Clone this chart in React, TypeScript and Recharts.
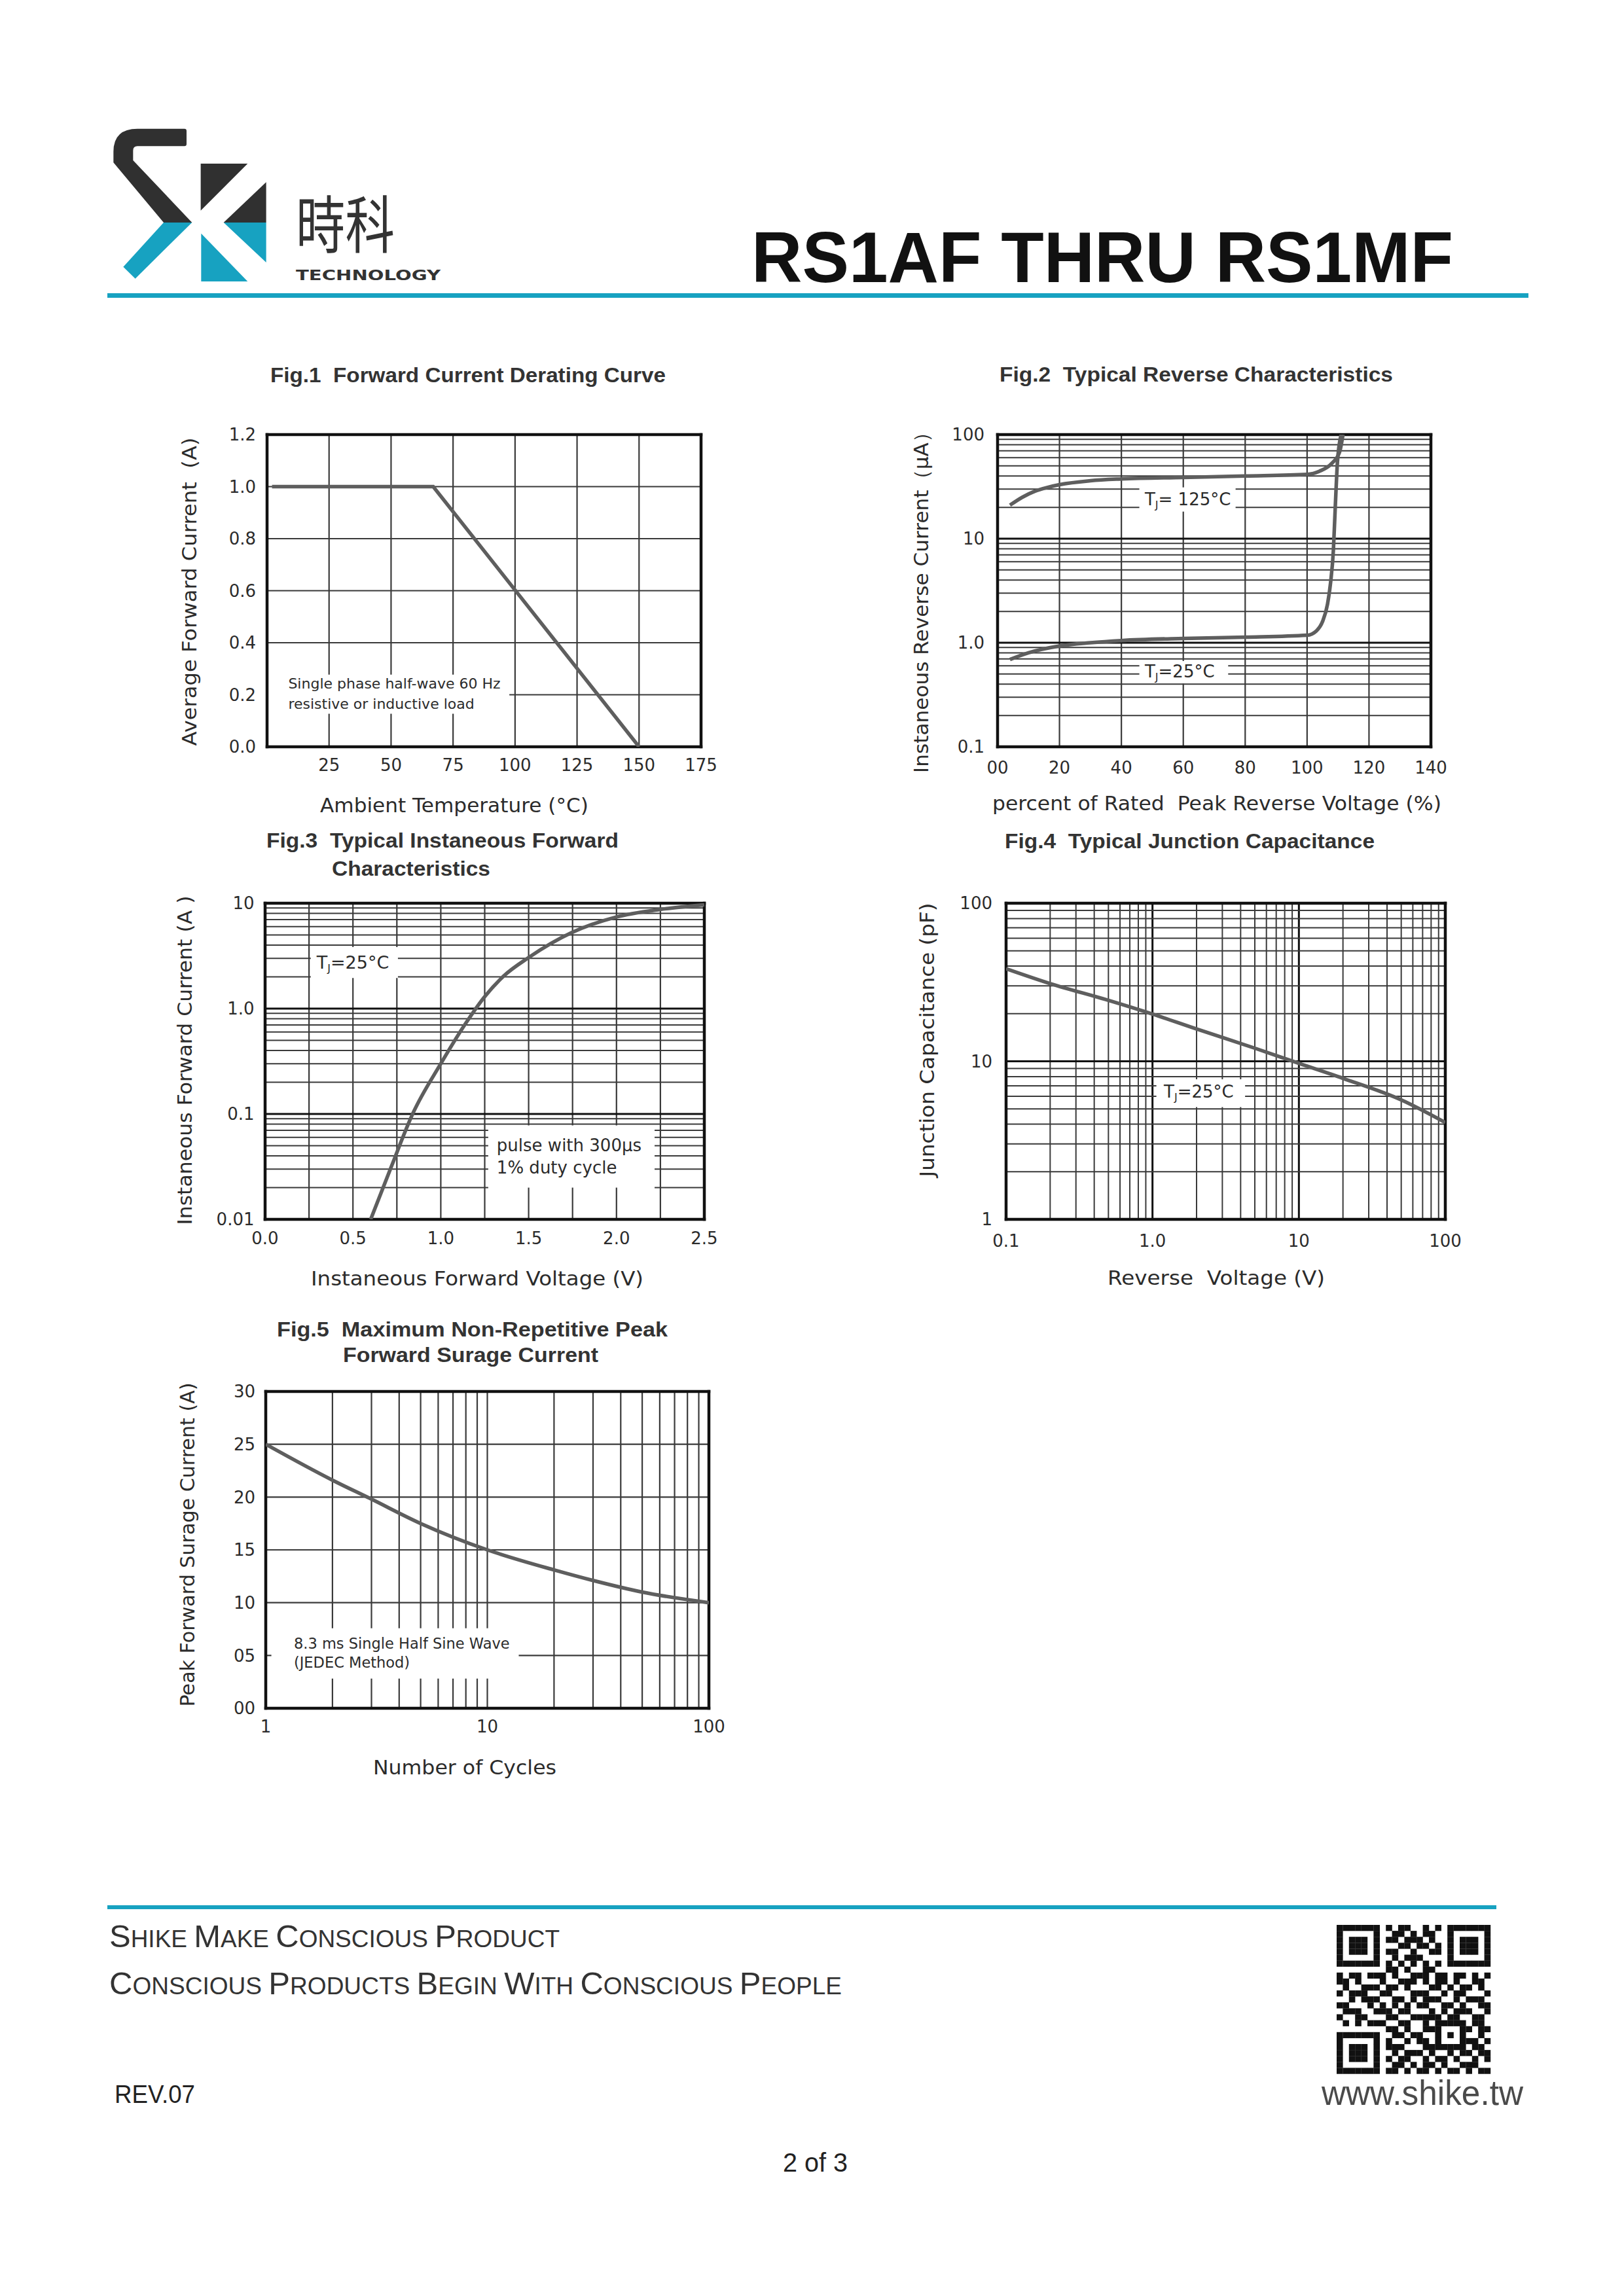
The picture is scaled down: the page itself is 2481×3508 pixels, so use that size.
import React from 'react';
import { LineChart, Line, XAxis, YAxis, ReferenceLine, ReferenceArea } from 'recharts';

const SANS = '"DejaVu Sans", "Liberation Sans", sans-serif';
const ARIAL = '"Liberation Sans", Arial, sans-serif';
const INK = '#2b2b2b';
const TEAL = '#17a2c1';
const CURVE = '#5e5e5e';

const decadeGrid = (exps: number[]) =>
  exps.flatMap((e) => [2, 3, 4, 5, 6, 7, 8, 9].map((m) => Number((m * Math.pow(10, e)).toPrecision(4))));

// ---------- Fig.1 ----------
const fig1XTicks = [25, 50, 75, 100, 125, 150, 175];
const fig1XLabels = ['25', '50', '75', '100', '125', '150', '175'];
const fig1YTicks = [0, 0.2, 0.4, 0.6, 0.8, 1.0, 1.2];
const fig1YLabels = ['0.0', '0.2', '0.4', '0.6', '0.8', '1.0', '1.2'];
const fig1Derating = [
  { x: 2, y: 1.0 },
  { x: 67, y: 1.0 },
  { x: 150, y: 0 },
];

// ---------- Fig.2 ----------
const fig2XTicks = [0, 20, 40, 60, 80, 100, 120, 140];
const fig2XLabels = ['00', '20', '40', '60', '80', '100', '120', '140'];
const fig2YTicks = [0.1, 1, 10, 100];
const fig2YLabels = ['0.1', '1.0', '10', '100'];
const fig2Tj125 = [
  { x: 4, y: 21 }, { x: 8, y: 25 }, { x: 12, y: 28.5 }, { x: 16, y: 31 }, { x: 20, y: 33 },
  { x: 30, y: 36 }, { x: 40, y: 37.5 }, { x: 60, y: 38.8 }, { x: 80, y: 40 }, { x: 100, y: 41.5 },
  { x: 104, y: 44.5 }, { x: 108, y: 53 }, { x: 110.5, y: 68 }, { x: 111.6, y: 100 },
];
const fig2Tj25 = [
  { x: 4, y: 0.69 }, { x: 10, y: 0.8 }, { x: 20, y: 0.93 }, { x: 30, y: 1.0 }, { x: 40, y: 1.05 },
  { x: 60, y: 1.1 }, { x: 80, y: 1.13 }, { x: 100, y: 1.18 }, { x: 103, y: 1.3 }, { x: 105, y: 1.6 },
  { x: 106.6, y: 2.35 }, { x: 107.6, y: 3.8 }, { x: 108.5, y: 7.8 }, { x: 109.1, y: 20 },
  { x: 109.8, y: 54 }, { x: 111, y: 100 },
];

// ---------- Fig.3 ----------
const fig3XTicks = [0, 0.5, 1.0, 1.5, 2.0, 2.5];
const fig3XLabels = ['0.0', '0.5', '1.0', '1.5', '2.0', '2.5'];
const fig3YTicks = [0.01, 0.1, 1, 10];
const fig3YLabels = ['0.01', '0.1', '1.0', '10'];
const fig3Forward = [
  { x: 0.601, y: 0.01 }, { x: 0.713, y: 0.03 }, { x: 0.842, y: 0.102 }, { x: 1.0, y: 0.3 },
  { x: 1.143, y: 0.73 }, { x: 1.25, y: 1.3 }, { x: 1.357, y: 2.03 }, { x: 1.5, y: 3.05 },
  { x: 1.744, y: 5.25 }, { x: 1.995, y: 7.36 }, { x: 2.249, y: 8.73 }, { x: 2.5, y: 9.66 },
];

// ---------- Fig.4 ----------
const fig4XTicks = [0.1, 1, 10, 100];
const fig4XLabels = ['0.1', '1.0', '10', '100'];
const fig4YTicks = [1, 10, 100];
const fig4YLabels = ['1', '10', '100'];
const fig4Cap = [
  { x: 0.1, y: 38.5 }, { x: 0.2, y: 31 }, { x: 0.5, y: 24.3 }, { x: 1, y: 19.9 }, { x: 2, y: 16.0 },
  { x: 5, y: 12.1 }, { x: 10, y: 9.7 }, { x: 20, y: 7.8 }, { x: 50, y: 5.7 }, { x: 100, y: 4.1 },
];

// ---------- Fig.5 ----------
const fig5XTicks = [1, 10, 100];
const fig5XLabels = ['1', '10', '100'];
const fig5YTicks = [0, 5, 10, 15, 20, 25, 30];
const fig5YLabels = ['00', '05', '10', '15', '20', '25', '30'];
const fig5Surge = [
  { x: 1, y: 25 }, { x: 2, y: 21.6 }, { x: 3, y: 19.8 }, { x: 5, y: 17.5 }, { x: 10, y: 15 },
  { x: 20, y: 13.1 }, { x: 30, y: 12.1 }, { x: 50, y: 11 }, { x: 100, y: 10 },
];

type Annot = {
  x1: number; x2: number; y1: number; y2: number;
  padX: number; baselines: number[]; fontSize: number; lines: React.ReactNode[];
};
type GridSet = { values: number[]; color: string; width: number };
type Spec = {
  plot: { l: number; t: number; r: number; b: number };
  xScale: 'linear' | 'log'; yScale: 'linear' | 'log';
  xDomain: [number, number]; yDomain: [number, number];
  xTicks: number[]; xLabels: string[]; yTicks: number[]; yLabels: string[];
  xGrid: GridSet[]; yGrid: GridSet[];
  xTickMargin: number; yTickMargin: number;
  series: { data: { x: number; y: number }[]; curve: 'linear' | 'monotone' }[];
  annots: Annot[];
};

const tj = (rest: string) => (
  <>
    T<tspan fontSize={16} dy={5}>J</tspan>
    <tspan dy={-5}>{rest}</tspan>
  </>
);

const GRID = '#3a3a3a';
const MAJOR = '#111';

const specs: Spec[] = [
  {
    plot: { l: 408, t: 664, r: 1071, b: 1141 },
    xScale: 'linear', yScale: 'linear', xDomain: [0, 175], yDomain: [0, 1.2],
    xTicks: fig1XTicks, xLabels: fig1XLabels, yTicks: fig1YTicks, yLabels: fig1YLabels,
    xGrid: [{ values: [25, 50, 75, 100, 125, 150], color: GRID, width: 2.2 }],
    yGrid: [{ values: [0.2, 0.4, 0.6, 0.8, 1.0], color: GRID, width: 2.2 }],
    xTickMargin: 19, yTickMargin: 17,
    series: [{ data: fig1Derating, curve: 'linear' }],
    annots: [
      {
        x1: 0, x2: 97.7, y1: 0.127, y2: 0.2775, padX: 32.4, baselines: [21, 52], fontSize: 22,
        lines: ['Single phase half-wave 60 Hz', 'resistive or inductive load'],
      },
    ],
  },
  {
    plot: { l: 1524, t: 664, r: 2186, b: 1141 },
    xScale: 'linear', yScale: 'log', xDomain: [0, 140], yDomain: [0.1, 100],
    xTicks: fig2XTicks, xLabels: fig2XLabels, yTicks: fig2YTicks, yLabels: fig2YLabels,
    xGrid: [{ values: [20, 40, 60, 80, 100, 120], color: GRID, width: 2.2 }],
    yGrid: [
      { values: decadeGrid([-1, 0, 1]), color: GRID, width: 2 },
      { values: [1, 10], color: MAJOR, width: 3 },
    ],
    xTickMargin: 23, yTickMargin: 20,
    series: [
      { data: fig2Tj125, curve: 'monotone' },
      { data: fig2Tj25, curve: 'monotone' },
    ],
    annots: [
      { x1: 45.8, x2: 76.9, y1: 18.2, y2: 31.1, padX: 8.4, baselines: [27.4], fontSize: 26, lines: [tj('= 125°C')] },
      { x1: 45.8, x2: 74.5, y1: 0.405, y2: 0.667, padX: 8.4, baselines: [25.3], fontSize: 26, lines: [tj('=25°C')] },
    ],
  },
  {
    plot: { l: 405, t: 1380, r: 1076, b: 1863 },
    xScale: 'linear', yScale: 'log', xDomain: [0, 2.5], yDomain: [0.01, 10],
    xTicks: fig3XTicks, xLabels: fig3XLabels, yTicks: fig3YTicks, yLabels: fig3YLabels,
    xGrid: [{ values: [0.25, 0.5, 0.75, 1.0, 1.25, 1.5, 1.75, 2.0, 2.25], color: GRID, width: 2.2 }],
    yGrid: [
      { values: decadeGrid([-2, -1, 0]), color: GRID, width: 2 },
      { values: [0.1, 1], color: MAJOR, width: 3 },
    ],
    xTickMargin: 20, yTickMargin: 16.5,
    series: [{ data: fig3Forward, curve: 'monotone' }],
    annots: [
      { x1: 0.26, x2: 0.756, y1: 1.95, y2: 3.84, padX: 9, baselines: [33], fontSize: 27, lines: [tj('=25°C')] },
      {
        x1: 1.27, x2: 2.217, y1: 0.02, y2: 0.0778, padX: 13, baselines: [39, 73.5], fontSize: 26,
        lines: ['pulse with 300μs', '1% duty cycle'],
      },
    ],
  },
  {
    plot: { l: 1537, t: 1380, r: 2208, b: 1863 },
    xScale: 'log', yScale: 'log', xDomain: [0.1, 100], yDomain: [1, 100],
    xTicks: fig4XTicks, xLabels: fig4XLabels, yTicks: fig4YTicks, yLabels: fig4YLabels,
    xGrid: [
      { values: decadeGrid([-1, 0, 1]), color: GRID, width: 2 },
      { values: [1, 10], color: MAJOR, width: 3 },
    ],
    yGrid: [
      { values: decadeGrid([0, 1]), color: GRID, width: 2 },
      { values: [10], color: MAJOR, width: 3 },
    ],
    xTickMargin: 24, yTickMargin: 21,
    series: [{ data: fig4Cap, curve: 'monotone' }],
    annots: [
      { x1: 1.063, x2: 4.29, y1: 5.13, y2: 7.7, padX: 11.5, baselines: [27.8], fontSize: 26, lines: [tj('=25°C')] },
    ],
  },
  {
    plot: { l: 406, t: 2126, r: 1083, b: 2610 },
    xScale: 'log', yScale: 'linear', xDomain: [1, 100], yDomain: [0, 30],
    xTicks: fig5XTicks, xLabels: fig5XLabels, yTicks: fig5YTicks, yLabels: fig5YLabels,
    xGrid: [{ values: [...decadeGrid([0, 1]), 10], color: GRID, width: 2.2 }],
    yGrid: [{ values: [5, 10, 15, 20, 25], color: GRID, width: 2.2 }],
    xTickMargin: 19, yTickMargin: 16,
    series: [{ data: fig5Surge, curve: 'monotone' }],
    annots: [
      {
        x1: 1.06, x2: 13.86, y1: 2.81, y2: 7.58, padX: 34.4, baselines: [31.2, 60], fontSize: 22.5,
        lines: ['8.3 ms Single Half Sine Wave', '(JEDEC Method)'],
      },
    ],
  },
];

// split a grid line's extent around the annotation boxes (gridlines stop at the label boxes)
const subtract = (lo: number, hi: number, cuts: [number, number][]) => {
  let segs: [number, number][] = [[lo, hi]];
  for (const [a, b] of cuts) {
    segs = segs.flatMap(([s, e]) => {
      if (b <= s || a >= e) return [[s, e] as [number, number]];
      const out: [number, number][] = [];
      if (a > s) out.push([s, a]);
      if (b < e) out.push([b, e]);
      return out;
    });
  }
  return segs;
};

const annotRenderer = (a: Annot) => (props: any) => {
  const vb = props && props.viewBox ? props.viewBox : { x: 0, y: 0, width: 0, height: 0 };
  return (
    <g>
      {a.lines.map((ln, i) => (
        <text key={i} x={vb.x + a.padX} y={vb.y + a.baselines[i]} fontSize={a.fontSize} fontFamily={SANS} fill={INK}>
          {ln}
        </text>
      ))}
    </g>
  );
};

const fmt = (ticks: number[], labels: string[]) => (v: number) => {
  const i = ticks.indexOf(v);
  return i >= 0 ? labels[i] : String(v);
};

function Chart({ s }: { s: Spec }) {
  const padL = 130, padT = 20, padR = 40, padB = 70;
  const w = s.plot.r - s.plot.l + padL + padR;
  const h = s.plot.b - s.plot.t + padT + padB;
  const tickStyle = { fill: INK, fontSize: 26, fontFamily: SANS };
  const border = { stroke: '#111', strokeWidth: 4.5, strokeLinecap: 'square' as const };
  const vLines: React.ReactNode[] = [];
  s.xGrid.forEach((g, gi) =>
    g.values.forEach((v) => {
      const cuts = s.annots.filter((a) => a.x1 <= v && v <= a.x2).map((a) => [a.y1, a.y2] as [number, number]);
      subtract(s.yDomain[0], s.yDomain[1], cuts).forEach(([y0, y1], k) =>
        vLines.push(
          <ReferenceLine key={`xg${gi}-${v}-${k}`} segment={[{ x: v, y: y0 }, { x: v, y: y1 }]} stroke={g.color} strokeWidth={g.width} />
        )
      );
    })
  );
  const hLines: React.ReactNode[] = [];
  s.yGrid.forEach((g, gi) =>
    g.values.forEach((v) => {
      const cuts = s.annots.filter((a) => a.y1 <= v && v <= a.y2).map((a) => [a.x1, a.x2] as [number, number]);
      subtract(s.xDomain[0], s.xDomain[1], cuts).forEach(([x0, x1], k) =>
        hLines.push(
          <ReferenceLine key={`yg${gi}-${v}-${k}`} segment={[{ x: x0, y: v }, { x: x1, y: v }]} stroke={g.color} strokeWidth={g.width} />
        )
      );
    })
  );
  return (
    <div style={{ position: 'absolute', left: s.plot.l - padL, top: s.plot.t - padT, width: w, height: h }}>
      <LineChart width={w} height={h} margin={{ top: padT, right: padR, bottom: 0, left: 0 }}>
        <XAxis
          type="number" dataKey="x" scale={s.xScale} domain={s.xDomain} ticks={s.xTicks}
          tickFormatter={fmt(s.xTicks, s.xLabels)} axisLine={false} tickLine={false} tickSize={0}
          tickMargin={s.xTickMargin} height={padB} tick={tickStyle} interval={0} allowDataOverflow
        />
        <YAxis
          type="number" dataKey="y" scale={s.yScale} domain={s.yDomain} ticks={s.yTicks}
          tickFormatter={fmt(s.yTicks, s.yLabels)} axisLine={false} tickLine={false} tickSize={0}
          tickMargin={s.yTickMargin} width={padL} tick={tickStyle} interval={0} allowDataOverflow
        />
        {vLines}
        {hLines}
        <ReferenceLine x={s.xDomain[0]} {...border} />
        <ReferenceLine x={s.xDomain[1]} {...border} />
        <ReferenceLine y={s.yDomain[0]} {...border} />
        <ReferenceLine y={s.yDomain[1]} {...border} />
        {s.annots.map((a, i) => (
          <ReferenceArea
            key={`an${i}`} x1={a.x1} x2={a.x2} y1={a.y1} y2={a.y2}
            fill="none" stroke="none" ifOverflow="visible" label={{ content: annotRenderer(a) }}
          />
        ))}
        {s.series.map((d, i) => (
          <Line
            key={`s${i}`} data={d.data} dataKey="y" type={d.curve} stroke={CURVE} strokeWidth={5.5}
            dot={false} activeDot={false} isAnimationActive={false}
          />
        ))}
      </LineChart>
    </div>
  );
}

// ---------- page texts ----------
const figTitles = [
  { x: 413, y: 584, len: 604, text: 'Fig.1  Forward Current Derating Curve' },
  { x: 1527, y: 583, len: 601, text: 'Fig.2  Typical Reverse Characteristics' },
  { x: 407, y: 1295, len: 538, text: 'Fig.3  Typical Instaneous Forward' },
  { x: 507, y: 1338, len: 242, text: 'Characteristics' },
  { x: 1535, y: 1296, len: 565, text: 'Fig.4  Typical Junction Capacitance' },
  { x: 423, y: 2042, len: 597, text: 'Fig.5  Maximum Non-Repetitive Peak' },
  { x: 524, y: 2081, len: 390, text: 'Forward Surage Current' },
];
const xTitles = [
  { x: 489, y: 1241, len: 410, text: 'Ambient Temperature (°C)' },
  { x: 1516, y: 1238, len: 686, text: 'percent of Rated  Peak Reverse Voltage (%)' },
  { x: 475, y: 1964, len: 508, text: 'Instaneous Forward Voltage (V)' },
  { x: 1692, y: 1963, len: 332, text: 'Reverse  Voltage (V)' },
  { x: 570, y: 2711, len: 280, text: 'Number of Cycles' },
];
const yTitles = [
  { x: 300, cy: 904, len: 471, text: 'Average Forward Current  (A)' },
  { x: 1418, cy: 913, len: 536, text: 'Instaneous Reverse Current（μA）' },
  { x: 293, cy: 1620, len: 503, text: 'Instaneous Forward Current (A )' },
  { x: 1427, cy: 1589, len: 419, text: 'Junction Capacitance (pF)' },
  { x: 297, cy: 2360, len: 495, text: 'Peak Forward Surage Current (A)' },
];

const QR_ROWS = [
  '1111111' + '0' + '101100101' + '0' + '1111111',
  '1000001' + '0' + '011010110' + '0' + '1000001',
  '1011101' + '0' + '110111010' + '0' + '1011101',
  '1011101' + '0' + '001101101' + '0' + '1011101',
  '1011101' + '0' + '110010011' + '0' + '1011101',
  '1000001' + '0' + '010111000' + '0' + '1000001',
  '1111111' + '0' + '101010101' + '0' + '1111111',
  '00000000' + '110100110' + '00000000',
  '1011011' + '1' + '010011101' + '1' + '0110101',
  '110100' + '0' + '100111010110100110',
  '010011' + '1' + '011010001101011010',
  '101110' + '0' + '110001110010110001',
  '001011' + '1' + '001101011100101110',
  '110001' + '0' + '101010110011010011',
  '011100' + '1' + '110110001010111001',
  '100110' + '0' + '011001111101100110',
  '010101' + '1' + '100110010' + '11111' + '0110',
  '00000000' + '11010011' + '10001' + '1011',
  '1111111' + '0' + '01101100' + '10101' + '0010',
  '1000001' + '0' + '10010110' + '10001' + '1101',
  '1011101' + '0' + '11100011' + '11111' + '0110',
  '1011101' + '0' + '01011101' + '00101' + '1011',
  '1011101' + '0' + '10110010' + '11010' + '0101',
  '1000001' + '0' + '01101011' + '01001' + '1100',
  '1111111' + '0' + '11010110' + '10110' + '1011',
];

function SmallCaps({ text, big, small }: { text: string; big: number; small: number }) {
  return (
    <>
      {text.split('').map((ch, i) => {
        const upper = ch !== ch.toLowerCase();
        return (
          <tspan key={i} fontSize={upper ? big : small}>
            {ch === ' ' ? '\u00a0' : ch.toUpperCase()}
          </tspan>
        );
      })}
    </>
  );
}

function Page() {
  return (
    <svg width={2481} height={3508} style={{ position: 'absolute', left: 0, top: 0 }}>
      <rect x={0} y={0} width={2481} height={3508} fill="#fff" />
      {/* logo */}
      <g transform="translate(160,185) scale(0.3333)">
        <path d="M365,35 L150,35 Q40,35 40,140 L40,190 L270,465 L400,465 L130,180 L130,135 Q130,115 150,115 L365,115 Q375,115 375,105 L375,45 Q375,35 365,35 Z" fill="#303030" />
        <path d="M270,465 L400,465 L140,722 L85,668 Z" fill={TEAL} />
        <path d="M440,195 L655,195 L440,410 Z" fill="#303030" />
        <path d="M740,280 L740,465 L545,465 Z" fill="#303030" />
        <path d="M545,465 L740,465 L740,648 Z" fill={TEAL} />
        <path d="M442,515 L442,735 L655,735 Z" fill={TEAL} />
      </g>
      <text x={452} y={379} fontSize={95} fontFamily='"Noto Sans CJK TC", "Noto Sans CJK SC", sans-serif' fill="#333" textLength={151} lengthAdjust="spacingAndGlyphs">時科</text>
      <text x={452} y={428} fontSize={22} fontWeight={700} fontFamily={SANS} fill="#333" textLength={221} lengthAdjust="spacingAndGlyphs">TECHNOLOGY</text>
      <text x={1148} y={431} fontSize={110} fontWeight={700} fontFamily={ARIAL} fill="#111" textLength={1072} lengthAdjust="spacingAndGlyphs">RS1AF THRU RS1MF</text>
      <rect x={164} y={448} width={2171} height={7} fill={TEAL} />

      {/* chart titles */}
      {figTitles.map((t, i) => (
        <text key={`ft${i}`} x={t.x} y={t.y} fontSize={32} fontWeight={700} fontFamily={ARIAL} fill="#333" textLength={t.len} lengthAdjust="spacingAndGlyphs" style={{ whiteSpace: 'pre' }}>{t.text}</text>
      ))}
      {xTitles.map((t, i) => (
        <text key={`xt${i}`} x={t.x} y={t.y} fontSize={31} fontFamily={SANS} fill={INK} textLength={t.len} lengthAdjust="spacingAndGlyphs" style={{ whiteSpace: 'pre' }}>{t.text}</text>
      ))}
      {yTitles.map((t, i) => (
        <text key={`yt${i}`} transform={`translate(${t.x},${t.cy}) rotate(-90)`} x={0} y={0} textAnchor="middle" fontSize={31} fontFamily={SANS} fill={INK} textLength={t.len} lengthAdjust="spacingAndGlyphs" style={{ whiteSpace: 'pre' }}>{t.text}</text>
      ))}

      {/* footer */}
      <rect x={164} y={2911} width={2122} height={6} fill={TEAL} />
      <text x={167} y={2975} fontFamily={ARIAL} fill="#333" textLength={688} lengthAdjust="spacingAndGlyphs">
        <SmallCaps text="Shike Make Conscious Product" big={49} small={37} />
      </text>
      <text x={167} y={3047} fontFamily={ARIAL} fill="#333" textLength={1119} lengthAdjust="spacingAndGlyphs">
        <SmallCaps text="Conscious Products Begin With Conscious People" big={49} small={37} />
      </text>
      <text x={175} y={3213} fontSize={38} fontFamily={ARIAL} fill="#222" textLength={123} lengthAdjust="spacingAndGlyphs">REV.07</text>
      <text x={2019} y={3216} fontSize={54} fontFamily={ARIAL} fill="#4a4a4a" textLength={308} lengthAdjust="spacingAndGlyphs">www.shike.tw</text>
      <text x={1196} y={3318} fontSize={40} fontFamily={ARIAL} fill="#222" textLength={99} lengthAdjust="spacingAndGlyphs">2 of 3</text>
      <g>
        {QR_ROWS.flatMap((row, r) =>
          row.split('').map((c, k) =>
            c === '1' ? (
              <rect key={`q${r}-${k}`} x={2042 + k * 9.4} y={2941 + r * 9.1} width={9.6} height={9.3} fill="#111" />
            ) : null
          )
        )}
      </g>
    </svg>
  );
}

export default function App() {
  return (
    <div style={{ position: 'absolute', left: 0, top: 0, width: 2481, height: 3508, background: '#fff', overflow: 'hidden' }}>
      <Page />
      {specs.map((s, i) => (
        <Chart key={i} s={s} />
      ))}
    </div>
  );
}
